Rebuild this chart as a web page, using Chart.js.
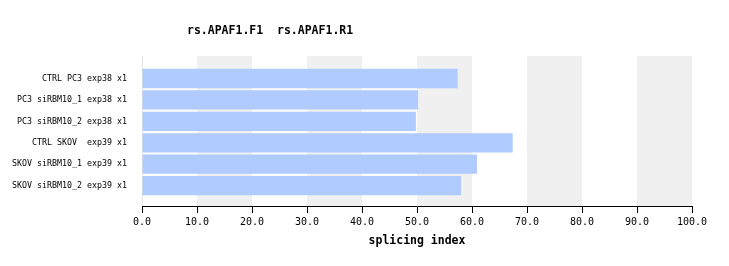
<!DOCTYPE html>
<html>
<head>
<meta charset="utf-8">
<script src="https://cdn.jsdelivr.net/npm/chart.js@4"></script>
<style>
  html, body { margin: 0; padding: 0; background: #fff; }
  #wrap { width: 729px; height: 266px; position: relative; }
</style>
</head>
<body>
<div id="wrap"><canvas id="chart" width="729" height="266"></canvas></div>
<script>
const categories = [
  'CTRL PC3 exp38 x1',
  'PC3 siRBM10_1 exp38 x1',
  'PC3 siRBM10_2 exp38 x1',
  'CTRL SKOV  exp39 x1',
  'SKOV siRBM10_1 exp39 x1',
  'SKOV siRBM10_2 exp39 x1'
];
const splicingIndex = [57.4, 50.2, 49.8, 67.4, 60.9, 58.0];
const xTicks = [0, 10, 20, 30, 40, 50, 60, 70, 80, 90, 100];
const titleText = 'rs.APAF1.F1  rs.APAF1.R1';
const xTitle = 'splicing index';

const MONO = '"DejaVu Sans Mono", "Liberation Mono", monospace';

// alternating grey bands behind bars, every other decade
const stripes = {
  id: 'stripes',
  beforeDatasetsDraw(chart) {
    const { ctx, chartArea, scales: { x } } = chart;
    ctx.save();
    ctx.fillStyle = '#f0f0f0';
    for (let i = 1; i < xTicks.length - 1; i += 2) {
      const a = x.getPixelForValue(xTicks[i]);
      const b = x.getPixelForValue(xTicks[i + 1]);
      ctx.fillRect(a, chartArea.top, b - a, chartArea.bottom - chartArea.top);
    }
    ctx.restore();
  }
};

const topTitle = {
  id: 'topTitle',
  afterDraw(chart) {
    const { ctx } = chart;
    ctx.save();
    ctx.font = 'bold 11.5px ' + MONO;
    ctx.fillStyle = '#000';
    ctx.textBaseline = 'middle';
    ctx.fillText(titleText, 187, 31);
    ctx.restore();
  }
};

new Chart(document.getElementById('chart'), {
  type: 'bar',
  data: {
    datasets: [{
      data: splicingIndex.map((v, i) => ({ x: v, y: i })),
      backgroundColor: '#b0cbff',
      borderWidth: 0,
      barPercentage: 0.9,
      categoryPercentage: 1.0
    }]
  },
  options: {
    indexAxis: 'y',
    responsive: false,
    animation: false,
    layout: { padding: { top: 56, right: 37, left: 0, bottom: 14 } },
    plugins: { legend: { display: false }, tooltip: { enabled: false } },
    scales: {
      y: {
        type: 'linear',
        reverse: true,
        offset: false,
        min: -1.05,
        max: 5.95,
        afterBuildTicks: s => { s.ticks = categories.map((_, i) => ({ value: i })); },
        afterFit: s => { s.width = 142; },
        grid: { display: false, offset: false },
        border: { display: true, color: '#e4e4e4', width: 1 },
        ticks: {
          autoSkip: false,
          padding: 7,
          color: '#000',
          font: { family: MONO, size: 8.3 },
          callback: v => categories[v] ?? ''
        }
      },
      x: {
        type: 'linear',
        min: 0,
        max: 100,
        afterBuildTicks: s => { s.ticks = xTicks.map(v => ({ value: v })); },
        afterFit: s => { s.height = 46; },
        grid: { drawOnChartArea: false, color: '#000', tickLength: 7 },
        border: { display: true, color: '#000', width: 1 },
        ticks: {
          color: '#000',
          padding: 3,
          maxRotation: 0,
          font: { family: MONO, size: 10 },
          callback: v => v.toFixed(1)
        },
        title: {
          display: true,
          text: xTitle,
          color: '#000',
          font: { family: MONO, size: 11.5, weight: 'bold' },
          padding: { top: 4 }
        }
      }
    }
  },
  plugins: [stripes, topTitle]
});
</script>
</body>
</html>
